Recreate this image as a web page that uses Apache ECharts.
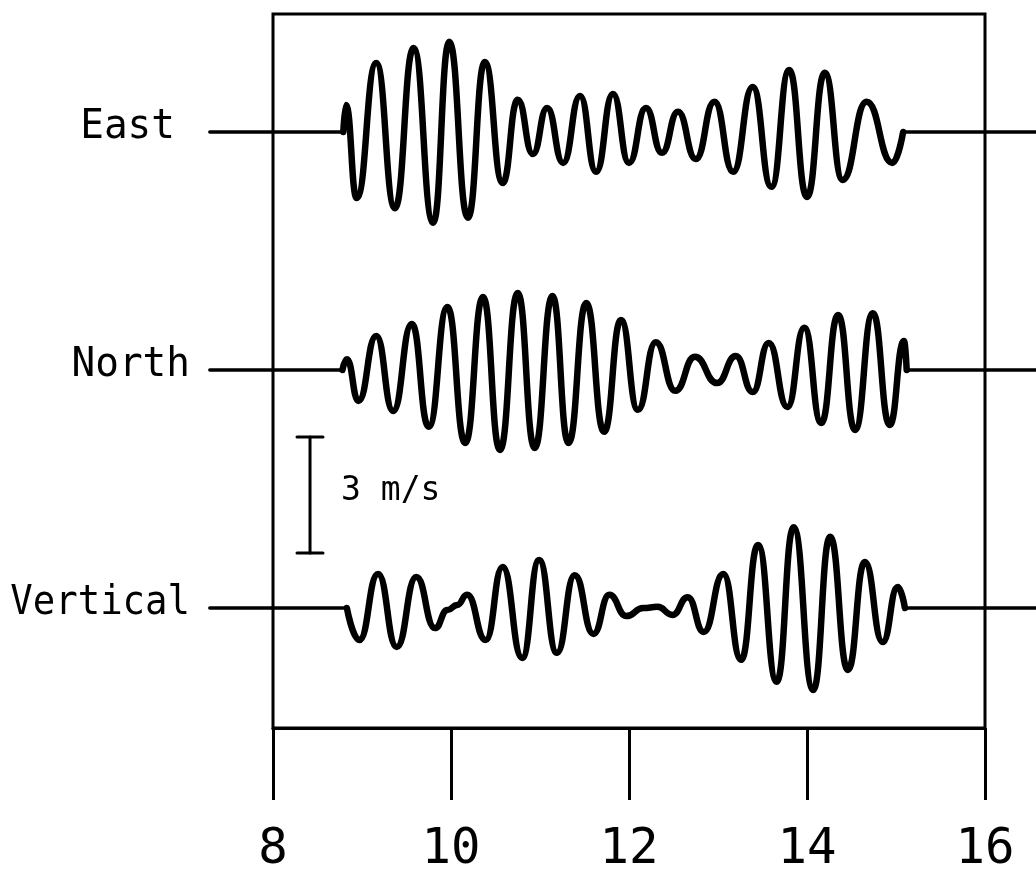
<!DOCTYPE html>
<html>
<head>
<meta charset="utf-8">
<title>Three-component ground velocity</title>
<script src="https://cdn.jsdelivr.net/npm/echarts@6/dist/echarts.min.js"></script>
<style>
  html, body { margin: 0; padding: 0; background: #ffffff; }
  #chart { width: 1036px; height: 870px; }
</style>
</head>
<body>
<div id="chart"></div>
<script>
// Time axis (s)
const timeTicks = [8, 10, 12, 14, 16];

// Component names and the vertical offset (m/s) at which each trace is plotted
const componentNames = ['East', 'North', 'Vertical'];
const componentOffsets = [12.31, 6.155, 0];

// Ground velocity traces: [time (s), velocity (m/s)] at onset, turning points and end
const eastTrace = [
  [8.79, 0], [8.82, 0.70], [8.94, -1.71], [9.16, 1.78], [9.37, -1.97], [9.58, 2.17],
  [9.80, -2.35], [9.98, 2.33], [10.19, -2.22], [10.38, 1.81], [10.58, -1.32], [10.75, 0.83],
  [10.92, -0.57], [11.08, 0.62], [11.26, -0.80], [11.45, 0.93], [11.63, -1.03], [11.82, 0.98],
  [12.00, -0.80], [12.19, 0.62], [12.37, -0.54], [12.55, 0.52], [12.75, -0.70], [12.96, 0.78],
  [13.17, -1.03], [13.39, 1.16], [13.60, -1.42], [13.80, 1.60], [14.00, -1.68], [14.20, 1.53],
  [14.40, -1.24], [14.67, 0.78], [14.96, -0.80], [15.08, 0]
];
const northTrace = [
  [8.78, 0], [8.83, 0.28], [8.96, -0.80], [9.16, 0.88], [9.35, -1.06], [9.56, 1.19],
  [9.75, -1.47], [9.96, 1.63], [10.16, -1.89], [10.36, 1.89], [10.55, -2.07], [10.75, 1.99],
  [10.94, -2.02], [11.14, 1.91], [11.32, -1.89], [11.52, 1.73], [11.72, -1.60], [11.91, 1.29],
  [12.10, -1.03], [12.30, 0.72], [12.52, -0.54], [12.74, 0.34], [12.99, -0.34], [13.20, 0.36],
  [13.39, -0.57], [13.57, 0.70], [13.78, -0.96], [13.97, 1.09], [14.16, -1.37], [14.35, 1.42],
  [14.54, -1.55], [14.74, 1.47], [14.93, -1.42], [15.09, 0.75], [15.12, 0]
];
const verticalTrace = [
  [8.83, 0], [8.97, -0.83], [9.18, 0.88], [9.39, -1.01], [9.61, 0.80], [9.82, -0.52],
  [9.96, -0.05], [10.07, 0.08], [10.18, 0.34], [10.39, -0.83], [10.58, 1.06], [10.80, -1.29],
  [10.99, 1.24], [11.19, -1.16], [11.39, 0.85], [11.60, -0.67], [11.78, 0.34], [11.97, -0.21],
  [12.16, 0.0], [12.32, 0.03], [12.49, -0.18], [12.66, 0.28], [12.84, -0.62], [13.06, 0.88],
  [13.26, -1.34], [13.45, 1.63], [13.66, -1.91], [13.85, 2.09], [14.07, -2.12], [14.26, 1.84],
  [14.46, -1.60], [14.65, 1.19], [14.85, -0.88], [15.02, 0.54], [15.10, 0]
];

// Quiet record before and after the wave train (s)
const recordStart = 7.29;
const recordEnd = 16.95;

// Amplitude scale bar: time position, lower end and length (m/s)
const scaleBar = { time: 8.416, base: 1.42, length: 3, label: '3 m/s' };

// ---- presentation ----
const MONO = '"DejaVu Sans Mono", "Liberation Mono", monospace';
const labelRightEdge = [175, 190, 190];
const labelSqueeze = [0.96, 0.96, 0.91];
const traces = [eastTrace, northTrace, verticalTrace];

const traceSeries = traces.map((tr, i) => ({
  name: componentNames[i],
  type: 'line',
  data: tr.map(p => [p[0], p[1] + componentOffsets[i]]),
  showSymbol: false,
  symbol: 'none',
  smooth: 0.5,
  smoothMonotone: 'x',
  lineStyle: { color: '#000', width: 6.5, cap: 'round', join: 'round' },
  silent: true,
  z: 3
}));

// Flat record segments plus the component names to their left
const recordSeries = {
  type: 'custom',
  data: traces.map((tr, i) => [componentOffsets[i], tr[0][0], tr[tr.length - 1][0], i]),
  renderItem: function (params, api) {
    const off = api.value(0);
    const idx = api.value(3);
    const a = api.coord([recordStart, off]);
    const b = api.coord([api.value(1), off]);
    const c = api.coord([api.value(2), off]);
    const d = api.coord([recordEnd, off]);
    const line = (p, q) => ({
      type: 'line',
      shape: { x1: p[0], y1: p[1], x2: q[0], y2: q[1] },
      style: { stroke: '#000', lineWidth: 3.5, lineCap: 'round' }
    });
    return {
      type: 'group',
      children: [
        line(a, b),
        line(c, d),
        {
          type: 'text',
          x: labelRightEdge[idx],
          y: a[1] - 5,
          scaleX: labelSqueeze[idx],
          style: {
            text: componentNames[idx],
            x: 0,
            y: 0,
            fill: '#000',
            font: '41px ' + MONO,
            align: 'right', textAlign: 'right',
            verticalAlign: 'middle', textVerticalAlign: 'middle'
          }
        }
      ]
    };
  },
  silent: true,
  z: 2
};

const scaleSeries = {
  type: 'custom',
  data: [[scaleBar.time, scaleBar.base, scaleBar.length]],
  renderItem: function (params, api) {
    const t = api.value(0);
    const lo = api.coord([t, api.value(1)]);
    const hi = api.coord([t, api.value(1) + api.value(2)]);
    const half = 13;
    const seg = (x1, y1, x2, y2) => ({
      type: 'line',
      shape: { x1, y1, x2, y2 },
      style: { stroke: '#000', lineWidth: 3, lineCap: 'round' }
    });
    return {
      type: 'group',
      children: [
        seg(lo[0], lo[1], hi[0], hi[1]),
        seg(hi[0] - half, hi[1], hi[0] + half, hi[1]),
        seg(lo[0] - half, lo[1], lo[0] + half, lo[1]),
        {
          type: 'text',
          style: {
            text: scaleBar.label,
            x: lo[0] + 31,
            y: (lo[1] + hi[1]) / 2 - 4,
            fill: '#000',
            font: '33px ' + MONO,
            align: 'left', textAlign: 'left',
            verticalAlign: 'middle', textVerticalAlign: 'middle'
          }
        }
      ]
    };
  },
  silent: true,
  z: 2
};

const chart = echarts.init(document.getElementById('chart'), null, { renderer: 'canvas' });
chart.setOption({
  animation: false,
  backgroundColor: '#ffffff',
  grid: {
    left: 273, right: 51, top: 14, bottom: 142,
    outerBoundsMode: 'none',
    containLabel: false,
    show: true, borderColor: '#000', borderWidth: 3, backgroundColor: 'transparent'
  },
  xAxis: {
    type: 'value',
    min: timeTicks[0],
    max: timeTicks[timeTicks.length - 1],
    interval: timeTicks[1] - timeTicks[0],
    axisLine: { show: true, onZero: false, lineStyle: { color: '#000', width: 3 } },
    axisTick: { show: true, inside: false, length: 72, lineStyle: { color: '#000', width: 3 } },
    splitLine: { show: false },
    axisLabel: {
      color: '#000',
      fontSize: 49,
      fontFamily: MONO,
      margin: 98
    }
  },
  yAxis: {
    type: 'value',
    min: -3.103,
    max: 15.36,
    show: false,
    splitLine: { show: false }
  },
  series: [recordSeries, scaleSeries].concat(traceSeries)
});
</script>
</body>
</html>
